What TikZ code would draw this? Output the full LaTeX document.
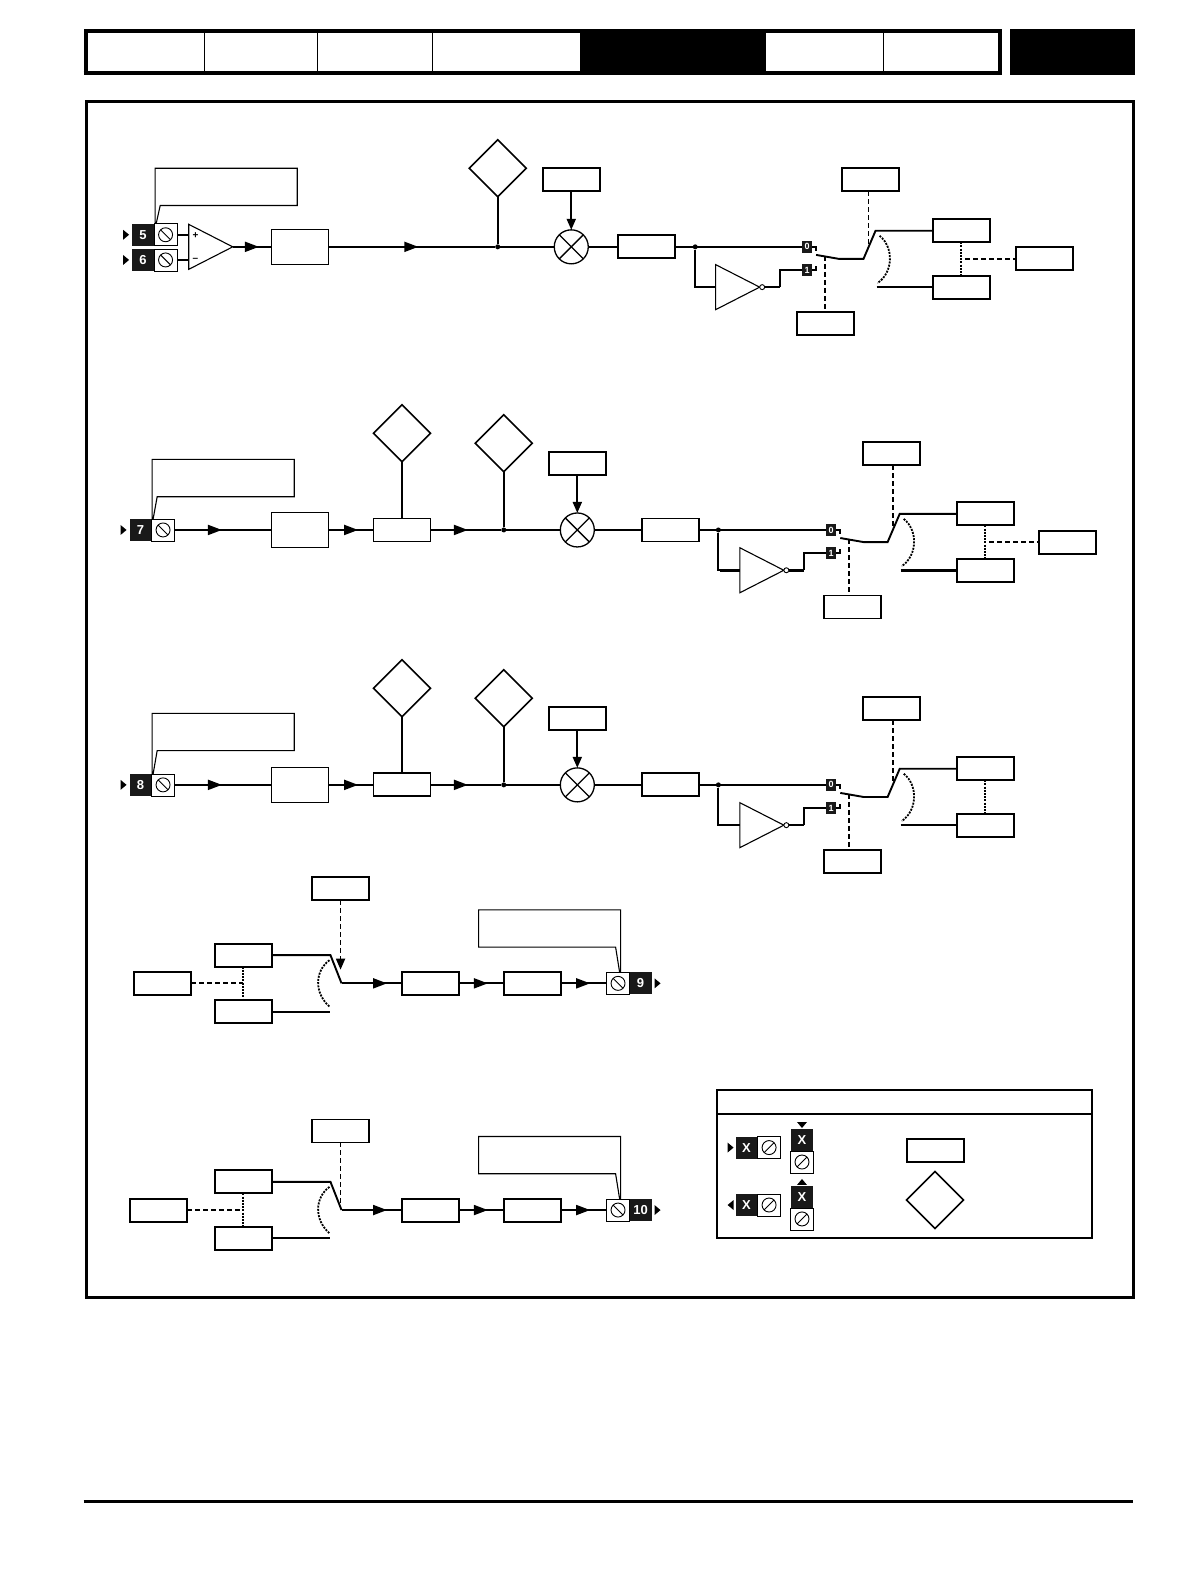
\documentclass[tikz,border=0pt]{standalone}
\usepackage{fontspec}
\setsansfont{Liberation Sans}
\usetikzlibrary{arrows.meta,calc,decorations.markings,positioning,shapes.geometric}
\tikzset{
	wire/.style={line width=1.9pt},
	hair/.style={line width=1.1pt},
	dashline/.style={line width=1.8pt, dash pattern=on 5pt off 3pt},
	dotline/.style={line width=1.8pt, dash pattern=on 2pt off 1.2pt},
	drop/.style={-{Triangle[length=11pt,width=9pt]}},
	box/.style={draw, line width=1.9pt, minimum width=57pt, minimum height=23pt, inner sep=0pt, outer sep=0pt},
	inbox/.style={box, line width=1.2pt, minimum height=35pt},
	diam/.style={draw, diamond, aspect=1, line width=1.6pt, minimum size=57pt, inner sep=0pt, outer sep=0pt},
	junction/.style={circle, fill=black, minimum size=5pt, inner sep=0pt},
	tag/.style={fill=black!90, text=white, minimum size=22pt, inner sep=0pt, outer sep=0pt, font=\sffamily\bfseries\fontsize{13}{13}\selectfont},
	minitag/.style={tag, minimum width=10pt, minimum height=12pt, font=\sffamily\bfseries\fontsize{9}{9}\selectfont},
	sign/.style={inner sep=0pt, font=\sffamily\bfseries\fontsize{10}{10}\selectfont},
	screw/.style={draw, fill=white, line width=.7pt, minimum width=23pt, minimum height=22pt, inner sep=0pt, outer sep=0pt,
			path picture={
					\draw[line width=.9pt] (path picture bounding box.center) circle (7pt);
					\draw[line width=.9pt] (path picture bounding box.center) ++(#1:7pt) -- ++(#1+180:14pt);
				}},
	screw/.default=135,
	pointer/.style={fill=black, isosceles triangle, isosceles triangle stretches, shape border rotate=#1, minimum height=6pt, minimum width=10pt, inner sep=0pt, outer sep=0pt},
	amp/.style={draw, isosceles triangle, isosceles triangle stretches, minimum height=44pt, minimum width=45pt, line width=1.1pt, inner sep=0pt, outer sep=0pt, anchor=east},
	bubble/.style={draw, circle, fill=white, line width=.9pt, minimum size=5pt, inner sep=0pt, outer sep=0pt},
	mult/.style={draw, circle, line width=1.3pt, minimum size=34pt, inner sep=0pt, outer sep=0pt,
			path picture={
					\draw[line width=1.3pt] (path picture bounding box.center) ++(45:17pt) -- ++(225:34pt);
					\draw[line width=1.3pt] (path picture bounding box.center) ++(135:17pt) -- ++(-45:34pt);
				}},
	flow/.style={postaction={decorate}, decoration={markings, mark=at position #1 with {\arrow{Triangle[length=14pt,width=10pt]}}}},
	pics/callout/.style={code={
				\draw[hair] (0,0) -- (0,-#1) -- (141,-#1) -- (141,37-#1) -- (5,37-#1) -- (1,0);
			}},
	pics/selector/.style={code={
				\node[minitag] (zero) at (0,0) {0};
				\node[minitag] (one) at (0,23) {1};
				\node[amp] (inv) at (-47,40) {};
				\node[bubble, right=0pt of inv.east] (ring) {};
				\coordinate (hit) at (61,-2);
				\coordinate (tap) at (157,12);
				\coordinate (fall) at (18,9);
				\node[box] (upper) at (153,-16) {};
				\node[box] (lower) at (153,40) {};
				\draw[wire, line width=#1pt] (inv.west) -- ++(-20,0) coordinate (feed);
				\draw[wire, line width=#1pt] (ring.east) -- ++(15,0) coordinate (bend);
				\draw[wire] (bend) |- (one.west);
				\draw[wire] (zero.east) -- ++(4,0) -- ++(0,4);
				\draw[wire] (one.east) -- ++(4,0) -- ++(0,-4);
				\draw[wire] (9,8) -- (32,12) -- (56,12) -- (68,-16) -- (upper.west);
				\draw[wire, line width=#1pt] (69,40) -- (lower.west);
				\draw[dotline] (72,-11) .. controls (86,0) and (86,25) .. (70,36);
				\draw[dotline] (upper.south) -- (lower.north);
			}},
	pics/outstage/.style={code={
				\node[box] (upper) at (-97.5,-28) {};
				\node[box] (lower) at (-97.5,28) {};
				\coordinate (arm) at (0,0);
				\coordinate (tap) at (-97.5,0);
				\draw[wire] (upper.east) -- (-11,-28) -- (arm);
				\draw[wire] (lower.east) -- (-11,28);
				\draw[dotline] (-12,-23) .. controls (-27,-12) and (-27,10) .. (-12,23);
				\draw[dotline] (upper.south) -- (lower.north);
			}}
}

\begin{document}
\begin{tikzpicture}[x=1.0075pt, y=-1.0075pt]
	\fill[white] (0,0) rectangle (1181.1,1568.2);

	% page header and frame
	\draw[line width=4pt] (85,70) |- (993,31) -- (993,70);
	\draw[line width=4pt] (83,72) -- (995,72);
	\fill (576,29) rectangle (760,74);
	\fill (1002,29) rectangle (1127,74);
	\foreach \xpos in {203,315,429,877}
		\draw[line width=1pt] (\xpos,31) -- (\xpos,72);
	\draw[line width=3pt] (85.5,100.5) rectangle (1125,1288);
	\draw[line width=3pt] (83,1490) -- (1125,1490);

	% first channel
	\node[tag] (t5) at (142,233) {5};
	\node[tag] (t6) at (142,258) {6};
	\node[screw, right=0pt of t5] (c5) {};
	\node[screw, right=0pt of t6] (c6) {};
	\node[pointer=0, left=3pt of t5] (p5) {};
	\node[pointer=0, left=3pt of t6] (p6) {};
	\pic at (154,222) {callout=55};
	\node[amp] (amp) at (231,245) {};
	\node[sign] (plus) at (194,234) {+};
	\node[sign] (minus) at (194,258) {--};
	\draw[wire] (c5.east) -- (c5.east -| amp.west);
	\draw[wire] (c6.east) -- (c6.east -| amp.west);
	\node[inbox] (f5) at (297.5,245) {};
	\node[junction] (j5) at (494,245) {};
	\node[diam] (d5) at (494,167) {};
	\node[box] (g5) at (567,178.5) {};
	\node[mult] (m5) at (567,245) {};
	\node[box] (o5) at (642,245) {};
	\node[junction] (k5) at (690,245) {};
	\pic (s5) at (801,245) {selector=1.9};
	\node[box] (e5) at (864,178.5) {};
	\node[box] (b5) at (819.5,321) {};
	\node[box] (x5) at (1036.5,257) {};
	\draw[wire, flow=.68] (amp.east) -- (f5.west);
	\draw[wire, flow=.54] (f5.east) -- (j5);
	\draw[wire] (j5) -- (d5.south);
	\draw[wire] (j5) -- (m5.west);
	\draw[wire, drop] (g5.south) -- (m5.north);
	\draw[wire] (m5.east) -- (o5.west);
	\draw[wire] (o5.east) -- (s5zero.west);
	\draw[wire] (k5) |- (s5feed);
	\draw[dashline] (e5.south -| s5hit) -- (s5hit);
	\draw[dashline] (s5fall) -- (s5fall |- b5.north);
	\draw[dashline] (s5tap) -- (x5.west);

	% second and third channel
	\foreach \n/\dy/\w/\h in {7/0/2.8/59,8/253/1.9/60}{
		\begin{scope}[shift={(0,\dy)}]
			\node[tag] (t\n) at (139.5,526) {\n};
			\node[screw, right=0pt of t\n] (c\n) {};
			\node[pointer=0, left=3pt of t\n] (p\n) {};
			\pic at (151,515) {callout=\h};
			\node[inbox] (f\n) at (297.5,526) {};
			\node[box] (h\n) at (399,526) {};
			\node[diam] (a\n) at (399,430) {};
			\node[junction] (j\n) at (500,526) {};
			\node[diam] (d\n) at (500,440) {};
			\node[box] (g\n) at (573,460) {};
			\node[mult] (m\n) at (573,526) {};
			\node[box] (o\n) at (665.5,526) {};
			\node[junction] (k\n) at (713,526) {};
			\pic (s\n) at (825,526) {selector=\w};
			\node[box] (e\n) at (885,450.5) {};
			\node[box] (b\n) at (846,602.5) {};
			\draw[wire, flow=.49] (c\n.east) -- (f\n.west);
			\draw[wire, flow=.66] (f\n.east) -- (h\n.west);
			\draw[wire] (h\n.north) -- (a\n.south);
			\draw[wire, flow=.53] (h\n.east) -- (j\n);
			\draw[wire] (j\n) -- (d\n.south);
			\draw[wire] (j\n) -- (m\n.west);
			\draw[wire, drop] (g\n.south) -- (m\n.north);
			\draw[wire] (m\n.east) -- (o\n.west);
			\draw[wire] (o\n.east) -- (s\n zero.west);
			\draw[wire] (k\n) |- (s\n feed);
			\draw[dashline] (e\n.south -| s\n hit) -- (s\n hit);
			\draw[dashline] (s\n fall) -- (s\n fall |- b\n.north);
		\end{scope}
	}
	\node[box] (x7) at (1059.5,538) {};
	\draw[dashline] (s7tap) -- (x7.west);

	% outputs
	\foreach \n/\ypos/\h/\xl in {9/976/62/161.5,10/1201/62/157.5}{
		\begin{scope}[shift={(0,\ypos)}]
			\pic (s\n) at (339,0) {outstage};
			\node[box] (l\n) at (\xl,0) {};
			\node[box] (o\n) at (427.5,0) {};
			\node[box] (q\n) at (528.5,0) {};
			\node[screw, anchor=west] (c\n) at (602,0) {};
			\node[tag, right=0pt of c\n] (t\n) {\n};
			\node[pointer=0, right=3pt of t\n] (p\n) {};
			\pic[xscale=-1] at (616,-11) {callout=\h};
			\draw[wire, flow=.75] (s\n arm) -- (o\n.west);
			\draw[wire, flow=.64] (o\n.east) -- (q\n.west);
			\draw[wire, flow=.64] (q\n.east) -- (c\n.west);
			\draw[dashline] (l\n.east) -- (s\n tap);
		\end{scope}
	}
	\node[box] (e9) at (338,882) {};
	\node[box] (e10) at (338,1122.5) {};
	\draw[dashline, drop] (e9.south) -- ++(0,69);
	\draw[dashline] (e10.south) -- ++(0,60);

	% key
	\draw[line width=2pt] (712,1082) rectangle (1084,1229);
	\draw[line width=2pt] (712,1106) -- (1084,1106);
	\node[tag] (k1) at (741,1139) {X};
	\node[screw=45, right=0pt of k1] (n1) {};
	\node[pointer=0, left=2pt of k1] (r1) {};
	\node[tag] (k2) at (796,1131.5) {X};
	\node[screw=45, below=0pt of k2] (n2) {};
	\node[pointer=-90, above=1pt of k2] (r2) {};
	\node[tag] (k3) at (741,1196) {X};
	\node[screw=45, right=0pt of k3] (n3) {};
	\node[pointer=180, left=2pt of k3] (r3) {};
	\node[tag] (k4) at (796,1188) {X};
	\node[screw=45, below=0pt of k4] (n4) {};
	\node[pointer=90, above=1pt of k4] (r4) {};
	\node[box] (b1) at (928.5,1141.5) {};
	\node[diam] (b2) at (928,1191) {};

	\pgfresetboundingbox
	\useasboundingbox (0,0) rectangle (1181.1,1568.2);
\end{tikzpicture}
\end{document}
